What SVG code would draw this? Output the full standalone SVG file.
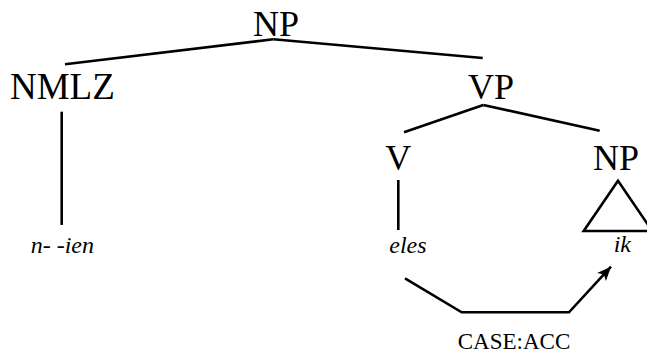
<svg xmlns="http://www.w3.org/2000/svg" width="647" height="353" viewBox="0 0 647 353">
  <style>
    text { font-family: "Liberation Serif", "DejaVu Serif", serif; fill: #000; }
    .cat { font-size: 36px; }
    .word { font-size: 24px; font-style: italic; }
    .feat { font-size: 23px; }
    .edge { stroke: #000; stroke-width: 2.6; fill: none; }
  </style>
  <defs>
    <marker id="arrowhead" markerUnits="userSpaceOnUse" markerWidth="16" markerHeight="14" refX="14" refY="6" orient="auto">
      <path d="M0,0 L14,6 L0,12 L3.5,6 z" fill="#000"/>
    </marker>
  </defs>
  <rect width="647" height="353" fill="#fff"/>

  <g id="connectors">
    <line class="edge" x1="273.3" y1="39.3" x2="65" y2="64.3"/>
    <line class="edge" x1="273.3" y1="39.3" x2="482.7" y2="58"/>
    <line class="edge" x1="61.7" y1="111.7" x2="61.7" y2="225"/>
    <line class="edge" x1="483.3" y1="105" x2="404" y2="132.3"/>
    <line class="edge" x1="483.3" y1="105" x2="599.7" y2="130.7"/>
    <line class="edge" x1="398.3" y1="180" x2="398.3" y2="230"/>
    <polyline class="edge" points="405,278.3 461.7,312.3 569,312.3 611,266.7" marker-end="url(#arrowhead)"/>
  </g>

  <g id="np-root">
    <text class="cat" x="276" y="36" text-anchor="middle" font-family="Liberation Serif">NP</text>
  </g>
  <g id="nmlz">
    <text class="cat" x="10" y="99" style="font-size:37px" font-family="Liberation Serif">NMLZ</text>
  </g>
  <g id="vp">
    <text class="cat" x="491" y="99" text-anchor="middle">VP</text>
  </g>
  <g id="v">
    <text class="cat" x="398.3" y="170" text-anchor="middle">V</text>
  </g>
  <g id="np-object">
    <text class="cat" x="616" y="170" text-anchor="middle">NP</text>
    <polygon class="edge" points="618,180.7 583.7,231 652.3,231"/>
  </g>
  <g id="word-nmlz">
    <text class="word" x="30.7" y="252.7">n- -ien</text>
  </g>
  <g id="word-eles">
    <text class="word" x="389.3" y="252.7">eles</text>
  </g>
  <g id="word-ik">
    <text class="word" x="613.7" y="251.7">ik</text>
  </g>
  <g id="case-label">
    <text class="feat" x="514" y="349" text-anchor="middle">CASE:ACC</text>
  </g>
</svg>
